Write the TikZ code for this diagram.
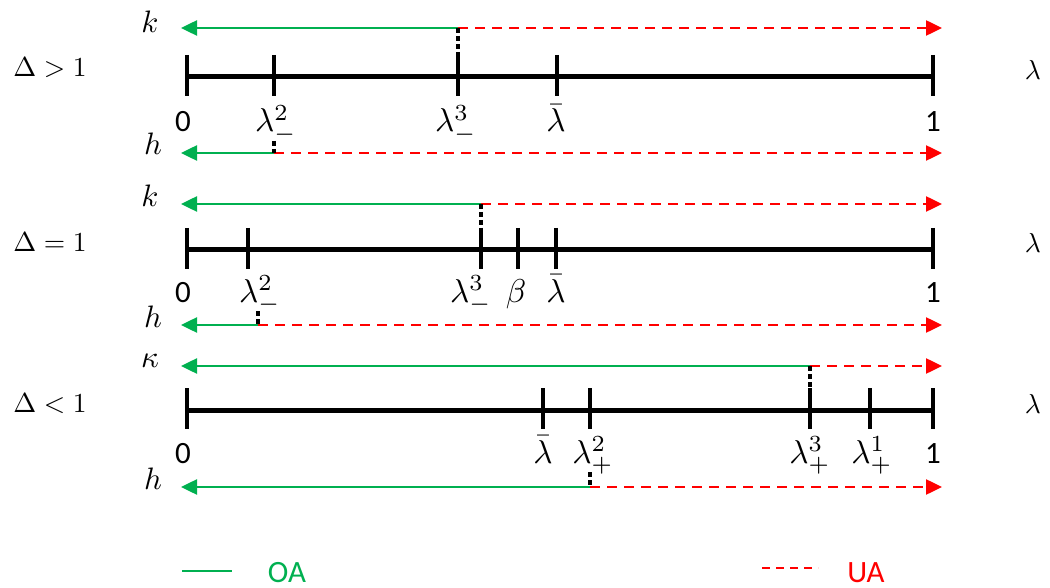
\documentclass[tikz,border=0pt]{standalone}
\usepackage{graphicx}
\usepackage{fontspec}
\usetikzlibrary{arrows.meta}
\newfontfamily\carl{Carlito}
\definecolor{oagreen}{HTML}{00B050}
\definecolor{uared}{HTML}{FF0000}
\newcommand\mlbl[1]{\scalebox{3.3}{$#1$}}
\newcommand\vlbl[1]{\scalebox{3.1}{$#1$}}
\newcommand\rlbl[1]{\scalebox{2.75}{$#1$}}
\begin{document}
\begin{tikzpicture}[x=1pt,y=-1pt,
  axisline/.style={line width=5pt},
  tickmark/.style={line width=3.5pt},
  oa/.style={draw=oagreen,line width=2.5pt,-{Triangle[length=16pt,width=15pt]}},
  ua/.style={draw=uared,line width=2.5pt,dash pattern=on 10pt off 7pt,-{Triangle[length=16pt,width=15pt]}},
  guide/.style={line width=3.5pt,dash pattern=on 5pt off 3pt},
  numlab/.style={anchor=base,inner sep=0pt,font=\carl\fontsize{31}{36}\selectfont},
  lab/.style={anchor=base,inner sep=0pt},
  leglab/.style={anchor=base,inner sep=0pt,font=\carl\fontsize{31}{36}\selectfont},
]
\useasboundingbox (0,0) rectangle (1050,588);

% ================= Row 1: Delta > 1 =================
\node[lab] (r1) at (50,77) {\rlbl{\Delta > 1}};
\node[lab] (l1) at (1033,80) {\rlbl{\lambda}};
\coordinate (a1s) at (185,77); \coordinate (a1e) at (933,77);
\draw[axisline] (a1s) -- (a1e);
\foreach \x/\n in {187/a,274/b,458/c,557/d,933/e}{
  \coordinate (t1\n top) at (\x,55);
  \coordinate (t1\n bot) at (\x,96);
  \draw[tickmark] (t1\n top) -- (t1\n bot);
}
\node[numlab] (n10) at (183,132) {0};
\node[lab] (n1b) at (276,132) {\mlbl{\lambda_-^2}};
\node[lab] (n1c) at (456,132) {\mlbl{\lambda_-^3}};
\node[lab] (n1d) at (556,132) {\mlbl{\bar\lambda}};
\node[numlab] (n11) at (933,132) {1};
% k arrows
\node[lab] (k1) at (150,33) {\vlbl{k}};
\coordinate (k1m) at (458,28); \coordinate (k1l) at (181,28); \coordinate (k1r) at (942,28);
\draw[oa] (k1m) -- (k1l);
\draw[ua] (k1m) -- (k1r);
\draw[guide] (k1m) -- (t1ctop);
% h arrows
\node[lab] (h1) at (153,155) {\vlbl{h}};
\coordinate (h1m) at (274,153); \coordinate (h1l) at (181,153); \coordinate (h1r) at (942,153);
\coordinate (h1g) at (274,141);
\draw[oa] (h1m) -- (h1l);
\draw[ua] (h1m) -- (h1r);
\draw[guide] (h1g) -- (h1m);

% ================= Row 2: Delta = 1 =================
\node[lab] (r2) at (50,252) {\rlbl{\Delta = 1}};
\node[lab] (l2) at (1033,253) {\rlbl{\lambda}};
\coordinate (a2s) at (185,250); \coordinate (a2e) at (933,250);
\draw[axisline] (a2s) -- (a2e);
\foreach \x/\n in {187/a,248/b,481/c,518/d,556/e,933/f}{
  \coordinate (t2\n top) at (\x,228);
  \coordinate (t2\n bot) at (\x,269);
  \draw[tickmark] (t2\n top) -- (t2\n bot);
}
\node[numlab] (n20) at (183,302) {0};
\node[lab] (n2b) at (260,302) {\mlbl{\lambda_-^2}};
\node[lab] (n2c) at (471,302) {\mlbl{\lambda_-^3}};
\node[lab] (n2d) at (516,302) {\mlbl{\beta}};
\node[lab] (n2e) at (556,302) {\mlbl{\bar\lambda}};
\node[numlab] (n21) at (933,302) {1};
% k arrows
\node[lab] (k2) at (150,207) {\vlbl{k}};
\coordinate (k2m) at (481,204); \coordinate (k2l) at (181,204); \coordinate (k2r) at (942,204);
\draw[oa] (k2m) -- (k2l);
\draw[ua] (k2m) -- (k2r);
\draw[guide] (k2m) -- (t2ctop);
% h arrows
\node[lab] (h2) at (153,327) {\vlbl{h}};
\coordinate (h2m) at (258,325); \coordinate (h2l) at (181,325); \coordinate (h2r) at (942,325);
\coordinate (h2g) at (258,311);
\draw[oa] (h2m) -- (h2l);
\draw[ua] (h2m) -- (h2r);
\draw[guide] (h2g) -- (h2m);

% ================= Row 3: Delta < 1 =================
\node[lab] (r3) at (50,412) {\rlbl{\Delta < 1}};
\node[lab] (l3) at (1033,413) {\rlbl{\lambda}};
\coordinate (a3s) at (185,410); \coordinate (a3e) at (933,410);
\draw[axisline] (a3s) -- (a3e);
\foreach \x/\n in {187/a,543/b,590/c,810/d,870/e,933/f}{
  \coordinate (t3\n top) at (\x,388);
  \coordinate (t3\n bot) at (\x,429);
  \draw[tickmark] (t3\n top) -- (t3\n bot);
}
\node[numlab] (n30) at (183,463) {0};
\node[lab] (n3b) at (543,463) {\mlbl{\bar\lambda}};
\node[lab] (n3c) at (593,463) {\mlbl{\lambda_+^2}};
\node[lab] (n3d) at (810,463) {\mlbl{\lambda_+^3}};
\node[lab] (n3e) at (872,463) {\mlbl{\lambda_+^1}};
\node[numlab] (n31) at (933,463) {1};
% kappa arrows
\node[lab] (k3) at (150,367) {\vlbl{\kappa}};
\coordinate (k3m) at (810,366); \coordinate (k3l) at (181,366); \coordinate (k3r) at (942,366);
\draw[oa] (k3m) -- (k3l);
\draw[ua] (k3m) -- (k3r);
\draw[guide] (k3m) -- (t3dtop);
% h arrows
\node[lab] (h3) at (153,489) {\vlbl{h}};
\coordinate (h3m) at (590,487); \coordinate (h3l) at (181,487); \coordinate (h3r) at (942,487);
\coordinate (h3g) at (590,472);
\draw[oa] (h3m) -- (h3l);
\draw[ua] (h3m) -- (h3r);
\draw[guide] (h3g) -- (h3m);

% ================= Legend =================
\coordinate (g1) at (182,571); \coordinate (g2) at (232,571);
\draw[draw=oagreen,line width=2.5pt] (g1) -- (g2);
\node[leglab,text=oagreen] (oa) at (287,582) {OA};
\coordinate (u1) at (762,568); \coordinate (u2) at (818,568);
\draw[draw=uared,line width=2.5pt,dash pattern=on 8pt off 6pt] (u1) -- (u2);
\node[leglab,text=uared] (ua) at (866,582) {UA};
\end{tikzpicture}
\end{document}
